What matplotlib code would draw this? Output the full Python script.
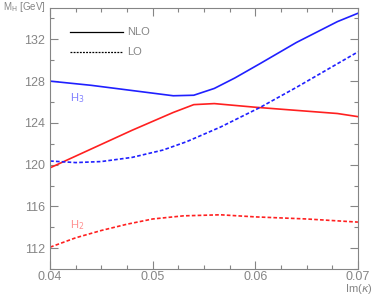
import numpy as np
import matplotlib
matplotlib.use("Agg")
import matplotlib.pyplot as plt
from matplotlib.ticker import MultipleLocator

matplotlib.rcParams["font.family"] = ["Liberation Sans", "DejaVu Sans"]
matplotlib.rcParams["mathtext.fontset"] = "dejavusans"

# Values: Im(kappa) and Higgs masses in GeV.
h3_nlo_x = [0.040, 0.044, 0.048, 0.052, 0.054, 0.056, 0.058, 0.0605, 0.064, 0.068, 0.070]
h3_nlo_y = [128.0, 127.6, 127.1, 126.6, 126.65, 127.3, 128.3, 129.7, 131.7, 133.7, 134.5]

h2_nlo_x = [0.040, 0.044, 0.048, 0.052, 0.054, 0.056, 0.060, 0.064, 0.068, 0.070]
h2_nlo_y = [119.7, 121.5, 123.3, 125.0, 125.75, 125.85, 125.5, 125.2, 124.9, 124.6]

h3_lo_x = [0.040, 0.0425, 0.045, 0.048, 0.051, 0.0533, 0.0566, 0.0605, 0.064, 0.067, 0.070]
h3_lo_y = [120.35, 120.2, 120.3, 120.7, 121.4, 122.2, 123.6, 125.5, 127.4, 129.1, 130.8]

h2_lo_x = [0.040, 0.0425, 0.045, 0.0475, 0.050, 0.053, 0.0566, 0.060, 0.065, 0.070]
h2_lo_y = [112.1, 113.0, 113.7, 114.3, 114.8, 115.1, 115.2, 115.0, 114.8, 114.5]

blue = "#2020ff"
red = "#ff2020"
grey = "#858585"

fig = plt.figure(figsize=(3.74, 2.98), dpi=100)
ax = fig.add_axes([0.134, 0.097, 0.823, 0.876])

dots = (0, (2.2, 1.3))
ax.plot(h3_nlo_x, h3_nlo_y, color=blue, lw=1.2)
ax.plot(h2_nlo_x, h2_nlo_y, color=red, lw=1.2)
ax.plot(h3_lo_x, h3_lo_y, color=blue, lw=1.2, linestyle=dots)
ax.plot(h2_lo_x, h2_lo_y, color=red, lw=1.2, linestyle=dots)

ax.set_xlim(0.04, 0.07)
ax.set_ylim(110, 135)
ax.set_xticks([0.04, 0.05, 0.06, 0.07])
ax.set_xticklabels(["0.04", "0.05", "0.06", "0.07"])
ax.set_yticks([112, 116, 120, 124, 128, 132])
ax.xaxis.set_minor_locator(MultipleLocator(0.0025))
ax.yaxis.set_minor_locator(MultipleLocator(2))
ax.tick_params(which="both", direction="in", top=True, right=True, colors=grey,
               labelcolor=grey, labelsize=9, width=0.8)
ax.tick_params(which="major", length=6)
ax.tick_params(which="minor", length=3)
ax.tick_params(axis="x", which="major", pad=1.5)
for s in ax.spines.values():
    s.set_color(grey)
    s.set_linewidth(0.8)

# legend drawn by hand
ax.plot([0.04195, 0.0471], [132.7, 132.7], color="k", lw=0.9)
ax.text(0.0475, 132.7, "NLO", color=grey, fontsize=8, va="center")
ax.plot([0.04195, 0.0471], [130.8, 130.8], color="k", lw=0.9, linestyle=(0, (1.5, 1)))
ax.text(0.0475, 130.8, "LO", color=grey, fontsize=8, va="center")

ax.text(0.0419, 126.4, r"H$_3$", color="#8080ff", fontsize=8, va="center")
ax.text(0.0419, 114.2, r"H$_2$", color="#ff9090", fontsize=8, va="center")

fig.text(0.008, 0.975, r"M$_{\rm H}$ [GeV]", color=grey, fontsize=7, va="center")
fig.text(0.997, 0.03, r"Im($\kappa$)", color=grey, fontsize=8, ha="right", va="center")

fig.savefig("out.png", dpi=100)
